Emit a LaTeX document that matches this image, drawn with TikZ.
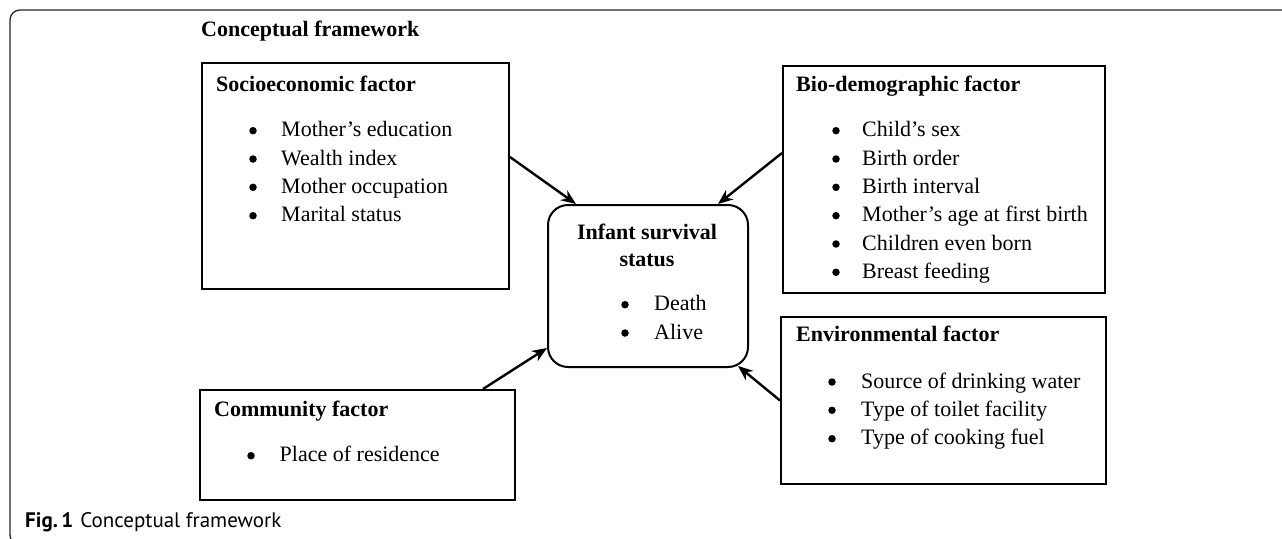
\documentclass[tikz,border=0pt]{standalone}
\usepackage{fontspec}
\setmainfont{Liberation Serif}
\newfontfamily\capfont{PT Sans}
\usetikzlibrary{arrows.meta}
\begin{document}
\begin{tikzpicture}[x=1pt,y=-1pt,
  box/.style={draw=black, line width=2pt, inner sep=0pt, anchor=north west},
  hdr/.style={anchor=base west, inner sep=0pt, font=\fontsize{22}{26}\selectfont\bfseries},
  itm/.style={anchor=base west, inner sep=0pt, font=\fontsize{22}{26}\selectfont},
  bul/.style={circle, fill=black, inner sep=0pt, minimum size=7.5pt, yshift=6pt},
  ctr/.style={anchor=base, inner sep=0pt, font=\fontsize{22}{26}\selectfont\bfseries},
  arr/.style={line width=2.4pt, -{Stealth[length=15pt,width=12pt]}}]
\useasboundingbox (0,0) rectangle (1282,538);
% outer frame
\begin{scope}
\clip (0,0) rectangle (1282,538);
\draw[line width=1.3pt, black!85, rounded corners=10pt] (1290,10) -- (10,10) -- (10,545) -- (40,545);
\end{scope}
% title
\node[hdr] (title) at (201,36.5) {Conceptual framework};
% boxes
\node[box, minimum width=307pt, minimum height=226pt] (socio) at (201,62) {};
\node[box, minimum width=322pt, minimum height=227pt] (bio) at (782,65) {};
\node[box, minimum width=325pt, minimum height=167pt] (env) at (780,316) {};
\node[box, minimum width=315pt, minimum height=110pt] (comm) at (199,389) {};
\node[box, minimum width=200pt, minimum height=162pt, rounded corners=20pt] (center) at (547,204) {};
% socioeconomic
\node[hdr] (sh) at (216,91) {Socioeconomic factor};
\node[bul] (sb1) at (253,136.7) {}; \node[itm] (st1) at (281,136.7) {Mother’s education};
\node[bul] (sb2) at (253,165.0) {}; \node[itm] (st2) at (281,165.0) {Wealth index};
\node[bul] (sb3) at (253,193.3) {}; \node[itm] (st3) at (281,193.3) {Mother occupation};
\node[bul] (sb4) at (253,221.7) {}; \node[itm] (st4) at (281,221.7) {Marital status};
% bio-demographic
\node[hdr] (bh) at (796,91.7) {Bio-demographic factor};
\node[bul] (bb1) at (836,136.7) {}; \node[itm] (bt1) at (862,136.7) {Child’s sex};
\node[bul] (bb2) at (836,165.0) {}; \node[itm] (bt2) at (862,165.0) {Birth order};
\node[bul] (bb3) at (836,193.3) {}; \node[itm] (bt3) at (862,193.3) {Birth interval};
\node[bul] (bb4) at (836,221.7) {}; \node[itm] (bt4) at (862,221.7) {Mother’s age at first birth};
\node[bul] (bb5) at (836,250.0) {}; \node[itm] (bt5) at (862,250.0) {Children even born};
\node[bul] (bb6) at (836,278.3) {}; \node[itm] (bt6) at (862,278.3) {Breast feeding};
% environmental
\node[hdr] (eh) at (796,341.7) {Environmental factor};
\node[bul] (eb1) at (832,388.0) {}; \node[itm] (et1) at (861,388.0) {Source of drinking water};
\node[bul] (eb2) at (832,416.3) {}; \node[itm] (et2) at (861,416.3) {Type of toilet facility};
\node[bul] (eb3) at (832,444.7) {}; \node[itm] (et3) at (861,444.7) {Type of cooking fuel};
% community
\node[hdr] (ch) at (214,416.7) {Community factor};
\node[bul] (cb1) at (251,461.7) {}; \node[itm] (ct1) at (279.5,461.7) {Place of residence};
% center
\node[ctr] (ih1) at (647,239) {Infant survival};
\node[ctr] (ih2) at (647,266.7) {status};
\node[bul] (ib1) at (625,310.7) {}; \node[itm] (it1) at (654,310.7) {Death};
\node[bul] (ib2) at (625,339.0) {}; \node[itm] (it2) at (654,339.0) {Alive};
% arrows
\draw[arr] ([yshift=19pt]socio.east) -- ([xshift=-72pt]center.north);
\draw[arr] ([yshift=26.5pt]bio.west) -- ([xshift=70pt]center.north);
\draw[arr] ([xshift=125.5pt]comm.north) -- ([yshift=-62pt]center.west);
\draw[arr] (env.west) -- ([xshift=-11pt,yshift=2pt]center.south east);
% caption
\node[anchor=base west, inner sep=0pt, font=\capfont\fontsize{21}{25}\selectfont] (cap) at (25,527) {\textbf{Fig.\,1}\hspace{7pt}Conceptual framework};
\end{tikzpicture}
\end{document}
